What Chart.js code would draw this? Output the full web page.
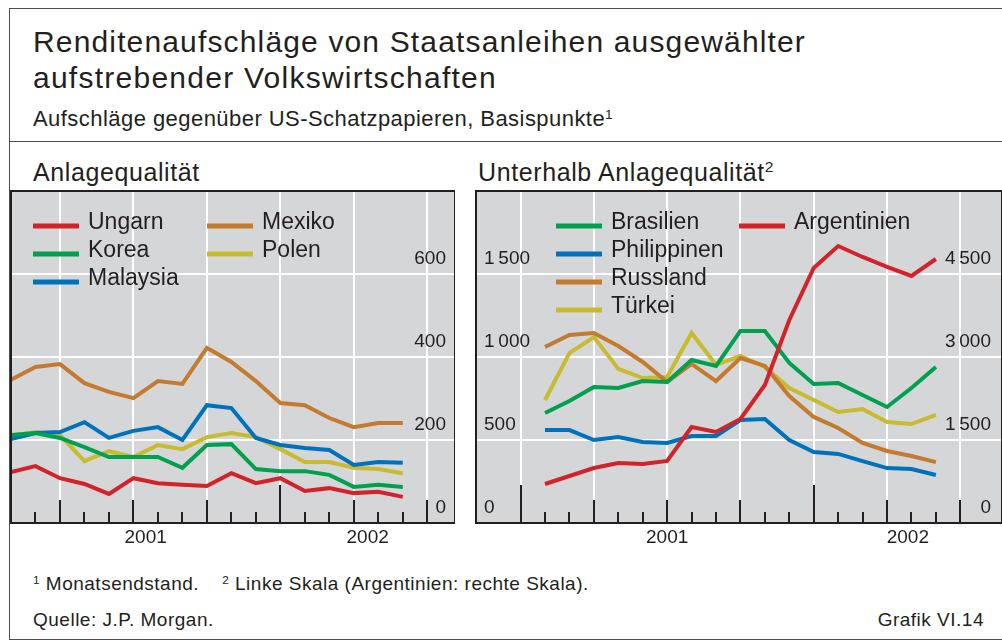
<!DOCTYPE html>
<html>
<head>
<meta charset="utf-8">
<script src="https://cdn.jsdelivr.net/npm/chart.js@4.4.1/dist/chart.umd.min.js"></script>
<style>
body { margin: 0; background: #fff; font-family: "Liberation Sans", Arial, sans-serif; color: #231f20; }
#page { position: relative; width: 1002px; height: 641px; overflow: hidden; }
.frame { position: absolute; left: 9px; top: 8px; width: 1010px; height: 632px; border: 1.5px solid #4d4d4f; box-sizing: border-box; }
.sep { position: absolute; left: 10px; top: 141px; width: 992px; border-top: 1.5px solid #4d4d4f; }
.t { position: absolute; white-space: nowrap; line-height: 1; }
.sup { font-size: 0.62em; vertical-align: 0.55em; line-height: 0; }
canvas { position: absolute; }
</style>
</head>
<body>
<div id="page">
  <div class="frame"></div>
  <div class="sep"></div>
  <div class="t" style="left:33px; top:27px; font-size:30px; letter-spacing:1.15px;">Renditenaufschläge von Staatsanleihen ausgewählter</div>
  <div class="t" style="left:33px; top:63px; font-size:30px; letter-spacing:1.25px;">aufstrebender Volkswirtschaften</div>
  <div class="t" style="left:33px; top:108px; font-size:22px; letter-spacing:0.45px;">Aufschläge gegenüber US-Schatzpapieren, Basispunkte<span class="sup">1</span></div>
  <div class="t" style="left:33px; top:160px; font-size:25px; letter-spacing:0.6px;">Anlagequalität</div>
  <div class="t" style="left:478px; top:160px; font-size:25px; letter-spacing:0.6px;">Unterhalb Anlagequalität<span class="sup">2</span></div>
  <div class="t" style="left:33px; top:574px; font-size:19px; letter-spacing:0.5px;"><span class="sup">1</span> Monatsendstand.&nbsp;&nbsp;&nbsp;&nbsp;<span class="sup">2</span> Linke Skala (Argentinien: rechte Skala).</div>
  <div class="t" style="left:33px; top:610px; font-size:19px; letter-spacing:0.5px;">Quelle: J.P. Morgan.</div>
  <div class="t" style="right:18px; top:610px; font-size:19px; letter-spacing:0.5px;">Grafik VI.14</div>
  <canvas id="links" width="445" height="371" style="left:10px; top:190px;"></canvas>
  <canvas id="rechts" width="527" height="371" style="left:475px; top:190px;"></canvas>
</div>
<script>
// Monatsendstände Jan. 2001 bis Mai 2002
var monate = ['Jan 01', 'Feb 01', 'Mär 01', 'Apr 01', 'Mai 01', 'Jun 01', 'Jul 01', 'Aug 01', 'Sep 01',
              'Okt 01', 'Nov 01', 'Dez 01', 'Jan 02', 'Feb 02', 'Mär 02', 'Apr 02', 'Mai 02'];

// Anlagequalität
var ungarn   = [123, 137, 108, 94, 70, 108, 96, 92, 89, 120, 96, 108, 77, 84, 72, 75, 63];
var korea    = [212, 217, 205, 183, 159, 159, 159, 133, 188, 190, 130, 125, 125, 116, 87, 92, 87];
var malaysia = [202, 217, 219, 243, 205, 222, 231, 200, 284, 277, 205, 188, 181, 176, 140, 147, 145];
var mexiko   = [345, 376, 383, 337, 316, 301, 342, 335, 422, 388, 342, 289, 284, 253, 231, 241, 241];
var polen    = [210, 219, 212, 149, 173, 159, 188, 178, 207, 217, 207, 178, 147, 147, 133, 130, 120];

// Unterhalb Anlagequalität (Argentinien: rechte Skala)
var brasilien   = [663, 735, 819, 813, 855, 849, 982, 946, 1157, 1157, 964, 837, 843, 771, 699, 813, 940];
var philippinen = [560, 560, 500, 518, 488, 482, 524, 524, 620, 627, 500, 428, 416, 373, 331, 325, 289];
var russland    = [1060, 1133, 1145, 1066, 970, 849, 958, 855, 994, 946, 765, 639, 572, 482, 434, 404, 367];
var tuerkei     = [741, 1024, 1120, 928, 873, 880, 1145, 952, 1006, 940, 813, 741, 669, 687, 608, 596, 651];
var argentinien = [705, 849, 994, 1084, 1066, 1121, 1735, 1645, 1880, 2494, 3669, 4609, 5006, 4808, 4627, 4464, 4771];

// Achsen
var jahre = ['2001', '2002'];
var jahrGrenzen = [-1, 11, 23];        // Monatsindex der Jahreswechsel
var quartale = [-1, 2, 5, 8, 11, 14, 17];
var yTicksLinks = [0, 200, 400, 600];
var yTicksRechtsL = [0, 500, 1000, 1500];
var yTicksRechtsR = [0, 1500, 3000, 4500];

var farben = {
  rot: '#d2232a', gruen: '#00a04f', blau: '#0072bc', orange: '#c47a2f', gelb: '#c8bb2f'
};

function punkte(werte) {
  return werte.map(function(v, i) { return { x: i, y: v }; });
}

function zahl(v) {
  var s = String(v);
  if (s.length > 3) s = s.slice(0, s.length - 3) + '\u2009' + s.slice(s.length - 3);
  return s;
}

var panelDeko = {
  id: 'panelDeko',
  beforeDraw: function(chart) {
    var a = chart.chartArea, ctx = chart.ctx;
    ctx.save();
    ctx.fillStyle = '#d5d6d8';
    ctx.fillRect(a.left, a.top, a.right - a.left, a.bottom - a.top);
    ctx.restore();
  },
  afterDraw: function(chart, args, opts) {
    var a = chart.chartArea, ctx = chart.ctx, x = chart.scales.x;
    ctx.save();
    // Monatsstriche
    ctx.strokeStyle = '#231f20';
    ctx.lineWidth = 2;
    for (var i = Math.max(Math.ceil(x.min), -1); i <= 17; i++) {
      var px = Math.round(x.getPixelForValue(i));
      if (px <= a.left + 1) continue;
      var len = jahrGrenzen.indexOf(i) >= 0 ? 38 : (i % 3 == 2 ? 23 : 11);
      ctx.beginPath();
      ctx.moveTo(px, a.bottom);
      ctx.lineTo(px, a.bottom - len);
      ctx.stroke();
    }
    ctx.strokeRect(a.left, a.top, a.right - a.left, a.bottom - a.top);

    // Jahresbeschriftung
    ctx.fillStyle = '#231f20';
    ctx.font = '19px "Liberation Sans"';
    ctx.textAlign = 'center';
    ctx.textBaseline = 'middle';
    for (var j = 0; j < jahre.length; j++) {
      var von = Math.max(jahrGrenzen[j], x.min), bis = Math.min(jahrGrenzen[j + 1], x.max);
      if (bis > von) ctx.fillText(jahre[j], x.getPixelForValue((von + bis) / 2), a.bottom + 15);
    }

    // Legende
    ctx.textAlign = 'left';
    ctx.font = '23px "Liberation Sans"';
    opts.legende.forEach(function(item) {
      var ds = chart.data.datasets[item.ds];
      ctx.strokeStyle = ds.borderColor;
      ctx.lineWidth = 5;
      ctx.beginPath();
      ctx.moveTo(item.x, item.y + 4);
      ctx.lineTo(item.x + 46, item.y + 4);
      ctx.stroke();
      ctx.fillText(ds.label, item.x + 55, item.y + 1);
    });
    ctx.restore();
  }
};

function linie(label, werte, farbe, achse) {
  return {
    label: label,
    data: punkte(werte),
    borderColor: farbe,
    borderWidth: 4,
    pointRadius: 0,
    tension: 0,
    yAxisID: achse || 'y'
  };
}

function xAchse(min, max) {
  return {
    type: 'linear', min: min, max: max,
    afterBuildTicks: function(s) {
      s.ticks = quartale.filter(function(v) { return v > s.min && v < s.max; })
                        .map(function(v) { return { value: v }; });
    },
    afterFit: function(s) {
      s.height = 0;
      s.paddingLeft = s.paddingRight = s.paddingTop = s.paddingBottom = 0;
    },
    ticks: { display: false },
    grid: { color: '#ffffff', lineWidth: 2, drawTicks: false },
    border: { display: false }
  };
}

function yAchse(pos, max, step, werte, padding, gitter) {
  return {
    type: 'linear', position: pos, min: 0, max: max,
    afterFit: function(s) {
      s.width = 0;
      s.paddingLeft = s.paddingRight = s.paddingTop = s.paddingBottom = 0;
    },
    afterBuildTicks: function(s) {
      s.ticks = [];
      for (var v = 0; v <= max; v += step) s.ticks.push({ value: v });
    },
    ticks: {
      mirror: true, padding: padding, labelOffset: -15,
      color: '#231f20', font: { family: 'Liberation Sans', size: 19 },
      callback: function(v) { return werte.indexOf(v) >= 0 ? zahl(v) : ''; }
    },
    grid: {
      display: gitter, drawTicks: false, lineWidth: 2,
      color: function(c) { return (c.tick.value > 0 && c.tick.value < max) ? '#ffffff' : 'rgba(0,0,0,0)'; }
    },
    border: { display: false }
  };
}

var monatsBreite = 24.43;

new Chart(document.getElementById('links'), {
  type: 'line',
  data: {
    labels: monate,
    datasets: [
      linie('Ungarn', ungarn, farben.rot),
      linie('Korea', korea, farben.gruen),
      linie('Malaysia', malaysia, farben.blau),
      linie('Mexiko', mexiko, farben.orange),
      linie('Polen', polen, farben.gelb)
    ]
  },
  options: {
    responsive: false,
    animation: false,
    layout: { padding: { top: 1, left: 1, right: 0, bottom: 38 } },
    scales: {
      x: xAchse(0, 443 / monatsBreite),
      y: yAchse('right', 800, 200, yTicksLinks, -9, true)
    },
    plugins: {
      legend: { display: false },
      tooltip: { enabled: false },
      panelDeko: {
        legende: [
          { ds: 0, x: 23, y: 32 }, { ds: 1, x: 23, y: 60 }, { ds: 2, x: 23, y: 88 },
          { ds: 3, x: 197, y: 32 }, { ds: 4, x: 197, y: 60 }
        ]
      }
    }
  },
  plugins: [panelDeko]
});

new Chart(document.getElementById('rechts'), {
  type: 'line',
  data: {
    labels: monate,
    datasets: [
      linie('Argentinien', argentinien, farben.rot, 'y2'),
      linie('Brasilien', brasilien, farben.gruen),
      linie('Philippinen', philippinen, farben.blau),
      linie('Russland', russland, farben.orange),
      linie('Türkei', tuerkei, farben.gelb)
    ]
  },
  options: {
    responsive: false,
    animation: false,
    layout: { padding: { top: 1, left: 1, right: 0, bottom: 38 } },
    scales: {
      x: xAchse(-69 / monatsBreite, -69 / monatsBreite + 526 / monatsBreite),
      y: yAchse('left', 2000, 500, yTicksRechtsL, 8, true),
      y2: yAchse('right', 6000, 1500, yTicksRechtsR, -11, false)
    },
    plugins: {
      legend: { display: false },
      tooltip: { enabled: false },
      panelDeko: {
        legende: [
          { ds: 1, x: 81, y: 32 }, { ds: 2, x: 81, y: 60 }, { ds: 3, x: 81, y: 88 },
          { ds: 4, x: 81, y: 116 }, { ds: 0, x: 264, y: 32 }
        ]
      }
    }
  },
  plugins: [panelDeko]
});
</script>
</body>
</html>
